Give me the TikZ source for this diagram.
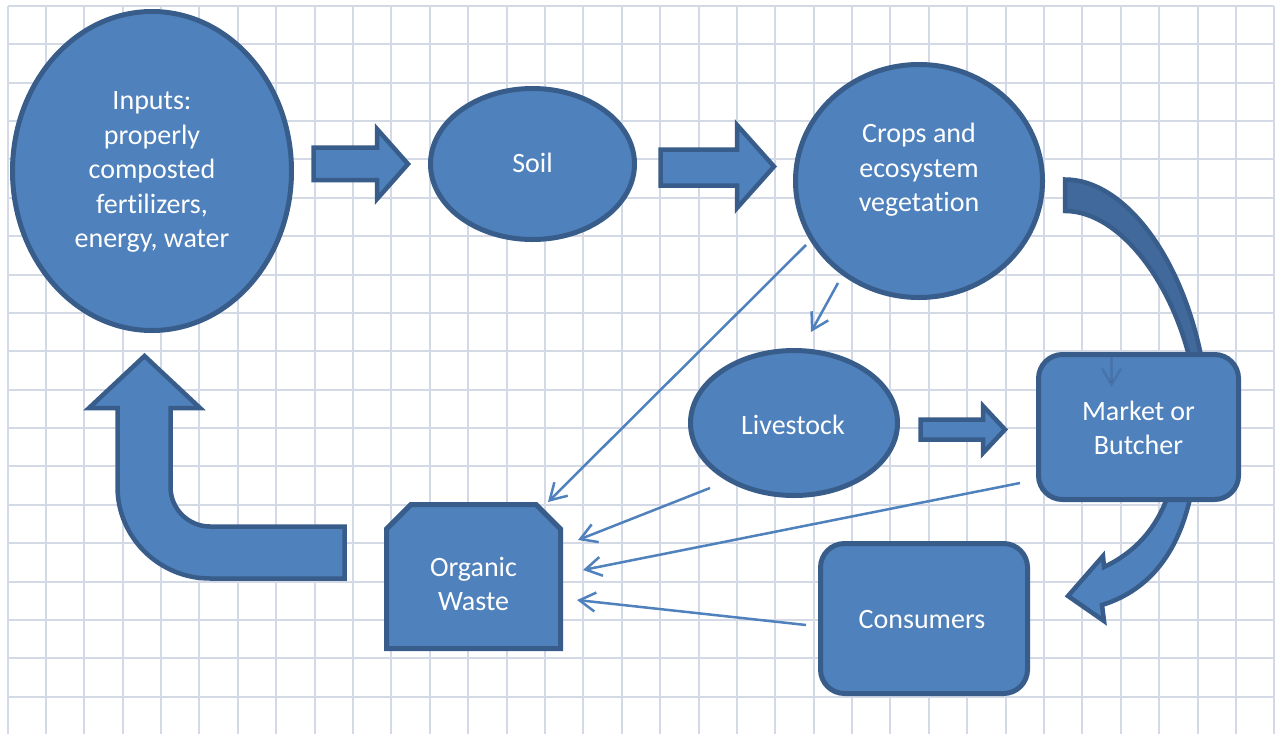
\documentclass[tikz,border=0pt]{standalone}
\usepackage{fontspec}
\setmainfont{Carlito}[Ligatures={NoCommon}]
\usetikzlibrary{arrows.meta,shapes.geometric}
\definecolor{fillb}{RGB}{79,129,189}
\definecolor{edgeb}{RGB}{56,93,138}
\definecolor{backb}{RGB}{65,105,156}
\definecolor{gridc}{RGB}{211,218,230}
\tikzset{
  shapebox/.style={fill=fillb, draw=edgeb, line width=5pt},
  ell/.style={shapebox, ellipse, inner sep=0pt},
  rbox/.style={shapebox, rectangle, rounded corners=24pt, inner sep=0pt},
  lbl/.style={text=white, font=\fontsize{28}{34.5}\selectfont, align=center},
  thinarrow/.style={draw=fillb, line width=2.5pt, -{Straight Barb[length=16pt,width=19pt]}},
  blockarrow/.style={shapebox, line width=4.5pt},
  gridline/.style={draw=gridc, line width=2pt}
}
\begin{document}
\begin{tikzpicture}[x=1pt,y=-1pt]
\useasboundingbox (0,0) rectangle (1281,734);
\fill[white] (0,0) rectangle (1281,734);
% grid
\foreach \i in {0,...,33} \draw[gridline] ({7.5+\i*38.39},6) -- ({7.5+\i*38.39},734);
\foreach \j in {0,...,18} \draw[gridline] (7.5,{6+\j*38.37}) -- (1274,{6+\j*38.37});

% curved arrow crops -> market -> consumers
\draw[blockarrow, fill=backb] (1065,179.5) .. controls (1127,179.5) and (1190,265) .. (1206,385)
  -- (1195,385) .. controls (1180,290) and (1122,211) .. (1065,211) -- cycle;
\draw[blockarrow] (1175,470) .. controls (1165,520) and (1140,550) .. (1104,567)
  -- (1103,556) -- (1068,596) -- (1104,621) -- (1102,605)
  .. controls (1150,590) and (1185,550) .. (1195,470) -- cycle;

% nodes
\node[ell, minimum width=279pt, minimum height=319pt] (inputs) at (152,171) {};
\node[lbl] (inputsT) at (152,172) {Inputs:\\properly\\composted\\fertilizers,\\energy, water};
\node[ell, minimum width=204pt, minimum height=151pt] (soil) at (532.5,164) {};
\node[lbl] (soilT) at (532.5,163) {Soil};
\node[ell, minimum width=247pt, minimum height=233pt] (crops) at (919,181) {};
\node[lbl] (cropsT) at (919,170) {Crops and\\ecosystem\\vegetation};
\node[ell, minimum width=207pt, minimum height=145pt] (livestock) at (794,423) {};
\node[lbl] (livestockT) at (793,425) {Livestock};
\node[rbox, minimum width=200pt, minimum height=145pt] (market) at (1138.5,427) {};
\node[lbl] (marketT) at (1138.5,428) {Market or\\Butcher};
\node[rbox, minimum width=207pt, minimum height=150pt] (consumers) at (924,618.5) {};
\node[lbl] (consumersT) at (922,620) {Consumers};
\draw[shapebox, line width=5pt] (386.5,529) -- (411,504.5) -- (536,504.5) -- (560.5,529)
  -- (560.5,648.5) -- (386.5,648.5) -- cycle;
\node[lbl] (waste) at (473.5,584) {Organic\\Waste};

% block arrows
\draw[blockarrow] (313.5,147.5) -- (377,147.5) -- (377,129) -- (408,164) -- (377,199)
  -- (377,180) -- (313.5,180) -- cycle;
\draw[blockarrow] (660.5,149.5) -- (737,149.5) -- (737,125) -- (774,166.5) -- (737,208)
  -- (737,185.5) -- (660.5,185.5) -- cycle;
\draw[blockarrow] (920.5,419.5) -- (983,419.5) -- (983,406) -- (1005,429.5) -- (983,453)
  -- (983,439.5) -- (920.5,439.5) -- cycle;
% big return arrow
\draw[blockarrow] (144.5,356) -- (200,408) -- (170.5,408) -- (170.5,487)
  .. controls (170.5,508.8) and (188.2,526.5) .. (210,526.5) -- (344.5,526.5)
  -- (344.5,578.5) -- (210,578.5)
  .. controls (159.2,578.5) and (117.5,537.5) .. (117.5,487) -- (117.5,408) -- (89,408) -- cycle;

% thin arrows
\coordinate (a1s) at (806,245);  \coordinate (a1e) at (548,502);
\coordinate (a2s) at (838,283);  \coordinate (a2e) at (811,332);
\coordinate (a3s) at (710,488);  \coordinate (a3e) at (578,540);
\coordinate (a4s) at (1020,483); \coordinate (a4e) at (583,570);
\coordinate (a5s) at (806,625);  \coordinate (a5e) at (577,600);
\coordinate (a6s) at (1111.5,356); \coordinate (a6e) at (1111.5,387);
\draw[thinarrow] (a1s) -- (a1e);
\draw[thinarrow] (a2s) -- (a2e);
\draw[thinarrow] (a3s) -- (a3e);
\draw[thinarrow] (a4s) -- (a4e);
\draw[thinarrow] (a5s) -- (a5e);
\draw[thinarrow, draw=edgeb, draw opacity=0.35] (a6s) -- (a6e);
\end{tikzpicture}
\end{document}
